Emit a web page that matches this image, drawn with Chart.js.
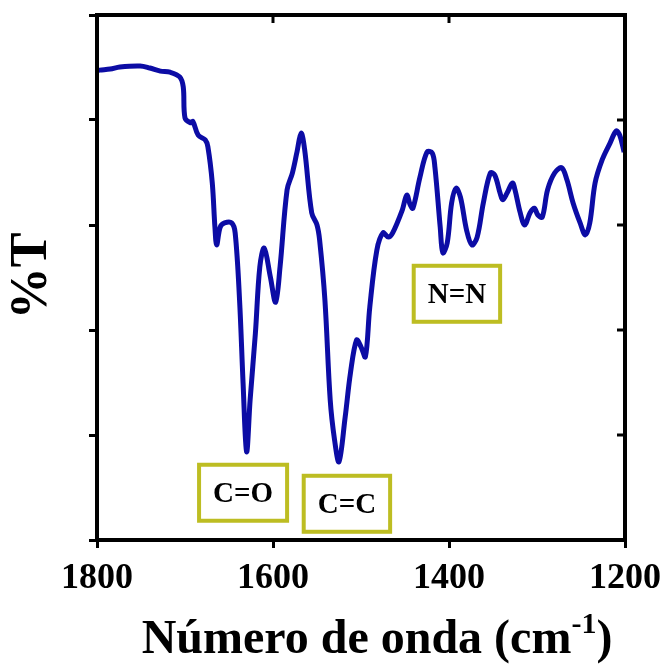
<!DOCTYPE html>
<html>
<head>
<meta charset="utf-8">
<script src="https://cdn.jsdelivr.net/npm/chart.js@4.4.1/dist/chart.umd.min.js"></script>
<style>
  html, body { margin: 0; padding: 0; background: #fff; }
  #wrap { width: 662px; height: 664px; }
</style>
</head>
<body>
<div id="wrap"><canvas id="irChart" width="662" height="664"></canvas></div>
<script>
// espectro IR (número de onda, %T en unidades arbitrarias 0-100)
const wavenumbers = [1800, 1797, 1785, 1774, 1751, 1740, 1728, 1717, 1706, 1702, 1700, 1694, 1691, 1685, 1677, 1674,
  1669, 1666, 1664, 1660, 1655, 1647, 1643, 1638, 1634, 1630, 1626, 1620, 1615, 1610, 1603, 1597, 1592, 1584,
  1578, 1573, 1568, 1564, 1556, 1550, 1547, 1541, 1535, 1530, 1525, 1518, 1512, 1505, 1500, 1495, 1490, 1482,
  1475, 1469, 1464, 1453, 1448, 1444, 1441, 1433, 1425, 1419, 1416, 1410, 1407, 1402, 1397, 1392, 1387, 1380,
  1374, 1368, 1361, 1353, 1348, 1342, 1339, 1334, 1328, 1325, 1319, 1314, 1308, 1303, 1299, 1294, 1288, 1280,
  1272, 1266, 1259, 1251, 1245, 1240, 1234, 1226, 1217, 1210, 1206, 1201];
const transmittance = [89.4, 89.5, 89.7, 90.1, 90.3, 89.9, 89.3, 89.1, 88.2, 86.3, 80.4, 79.5, 79.7, 77.1, 76.2, 74.9,
  68.0, 59.6, 56.2, 59.6, 60.4, 60.4, 58.5, 45.7, 29.9, 16.8, 26.7, 39.4, 52.0, 55.6, 50.1, 45.3, 52.0, 66.7,
  69.9, 73.7, 77.5, 74.3, 62.3, 60.0, 57.1, 45.7, 26.7, 19.0, 14.9, 23.4, 31.8, 38.1, 36.8, 34.9, 44.4, 55.2,
  58.5, 57.7, 58.5, 62.9, 65.7, 63.8, 63.2, 69.1, 73.9, 73.7, 71.0, 59.6, 54.7, 56.6, 64.2, 67.0, 65.3, 59.0,
  56.2, 57.7, 64.2, 69.9, 69.5, 66.1, 64.8, 66.1, 68.0, 66.7, 62.3, 60.0, 62.3, 63.2, 61.9, 61.5, 66.7, 69.9,
  70.9, 68.6, 64.2, 60.4, 58.1, 60.4, 68.0, 72.4, 75.6, 77.9, 77.1, 73.9];

const xTicks = [1800, 1600, 1400, 1200];
const yTicks = [0, 20, 40, 60, 80, 100];

// bandas señaladas
const bandLabels = ["C=O", "C=C", "N=N"];
const bandX = [1634, 1516, 1391];
const bandY = [9.0, 6.9, 46.9];

const serif = '"Liberation Serif", "Times New Roman", serif';

const framePlugin = {
  id: "irFrame",
  afterDraw(chart) {
    const ctx = chart.ctx;
    const area = chart.chartArea;
    const xs = chart.scales.x;
    const ys = chart.scales.y;
    ctx.save();

    // marco
    ctx.strokeStyle = "#000";
    ctx.lineWidth = 4;
    ctx.strokeRect(area.left, area.top, area.right - area.left, area.bottom - area.top);

    // marcas hacia dentro arriba y a la derecha
    ctx.lineWidth = 3;
    xTicks.forEach(v => {
      const px = xs.getPixelForValue(v);
      ctx.beginPath();
      ctx.moveTo(px, area.top);
      ctx.lineTo(px, area.top + 8);
      ctx.stroke();
    });
    yTicks.forEach(v => {
      const py = ys.getPixelForValue(v);
      ctx.beginPath();
      ctx.moveTo(area.right, py);
      ctx.lineTo(area.right - 8, py);
      ctx.stroke();
    });

    // recuadros de las bandas
    ctx.font = "bold 29px " + serif;
    ctx.textAlign = "center";
    ctx.textBaseline = "middle";
    bandLabels.forEach((label, i) => {
      const cx = xs.getPixelForValue(bandX[i]);
      const cy = ys.getPixelForValue(bandY[i]);
      const w = ctx.measureText(label).width + 28;
      const h = 56;
      ctx.fillStyle = "#fff";
      ctx.fillRect(cx - w / 2, cy - h / 2, w, h);
      ctx.strokeStyle = "#bdbd22";
      ctx.lineWidth = 4;
      ctx.strokeRect(cx - w / 2, cy - h / 2, w, h);
      ctx.fillStyle = "#000";
      ctx.fillText(label, cx, cy + 2);
    });

    // título eje x con superíndice
    const mainFont = "bold 48px " + serif;
    const supFont = "bold 30px " + serif;
    const part1 = "Número de onda (cm";
    const sup = "-1";
    const part2 = ")";
    ctx.font = mainFont;
    const w1 = ctx.measureText(part1).width;
    const w3 = ctx.measureText(part2).width;
    ctx.font = supFont;
    const w2 = ctx.measureText(sup).width;
    const total = w1 + w2 + w3;
    const x0 = (area.left + area.right) / 2 + 16 - total / 2;
    const base = 653;
    ctx.textAlign = "left";
    ctx.textBaseline = "alphabetic";
    ctx.font = mainFont;
    ctx.fillText(part1, x0, base);
    ctx.font = supFont;
    ctx.fillText(sup, x0 + w1, base - 20);
    ctx.font = mainFont;
    ctx.fillText(part2, x0 + w1 + w2, base);

    // título eje y
    ctx.translate(33, 276);
    ctx.rotate(-Math.PI / 2);
    ctx.font = "bold 52px " + serif;
    ctx.textAlign = "center";
    ctx.textBaseline = "middle";
    ctx.fillText("%T", 0, 0);

    ctx.restore();
  }
};

const ctx = document.getElementById("irChart").getContext("2d");
new Chart(ctx, {
  type: "line",
  data: {
    datasets: [{
      data: wavenumbers.map((w, i) => ({ x: w, y: transmittance[i] })),
      borderColor: "#0c0ca5",
      borderWidth: 5,
      pointRadius: 0,
      tension: 0.35,
      fill: false,
    }],
  },
  options: {
    responsive: false,
    animation: false,
    devicePixelRatio: 1,
    layout: { padding: { top: 15, right: 37, left: 0, bottom: 0 } },
    plugins: {
      legend: { display: false },
      tooltip: { enabled: false },
    },
    scales: {
      x: {
        type: "linear",
        reverse: true,
        min: 1200,
        max: 1800,
        afterBuildTicks(scale) { scale.ticks = xTicks.map(v => ({ value: v })); },
        afterFit(scale) {
          scale.height = 124;
          scale.paddingLeft = 0;
          scale.paddingRight = 0;
        },
        ticks: {
          autoSkip: false,
          maxRotation: 0,
          color: "#000",
          padding: 9,
          font: { family: serif, size: 36, weight: "bold" },
          callback: v => String(v),
        },
        grid: { drawOnChartArea: false, tickLength: 8, lineWidth: 3, color: "#000" },
        border: { width: 4, color: "#000" },
      },
      y: {
        min: 0,
        max: 100,
        afterBuildTicks(scale) { scale.ticks = yTicks.map(v => ({ value: v })); },
        afterFit(scale) {
          scale.width = 97;
          scale.paddingTop = 0;
          scale.paddingBottom = 0;
        },
        ticks: { callback: () => "" },
        grid: { drawOnChartArea: false, tickLength: 8, lineWidth: 3, color: "#000" },
        border: { width: 4, color: "#000" },
      },
    },
  },
  plugins: [framePlugin],
});
</script>
</body>
</html>
